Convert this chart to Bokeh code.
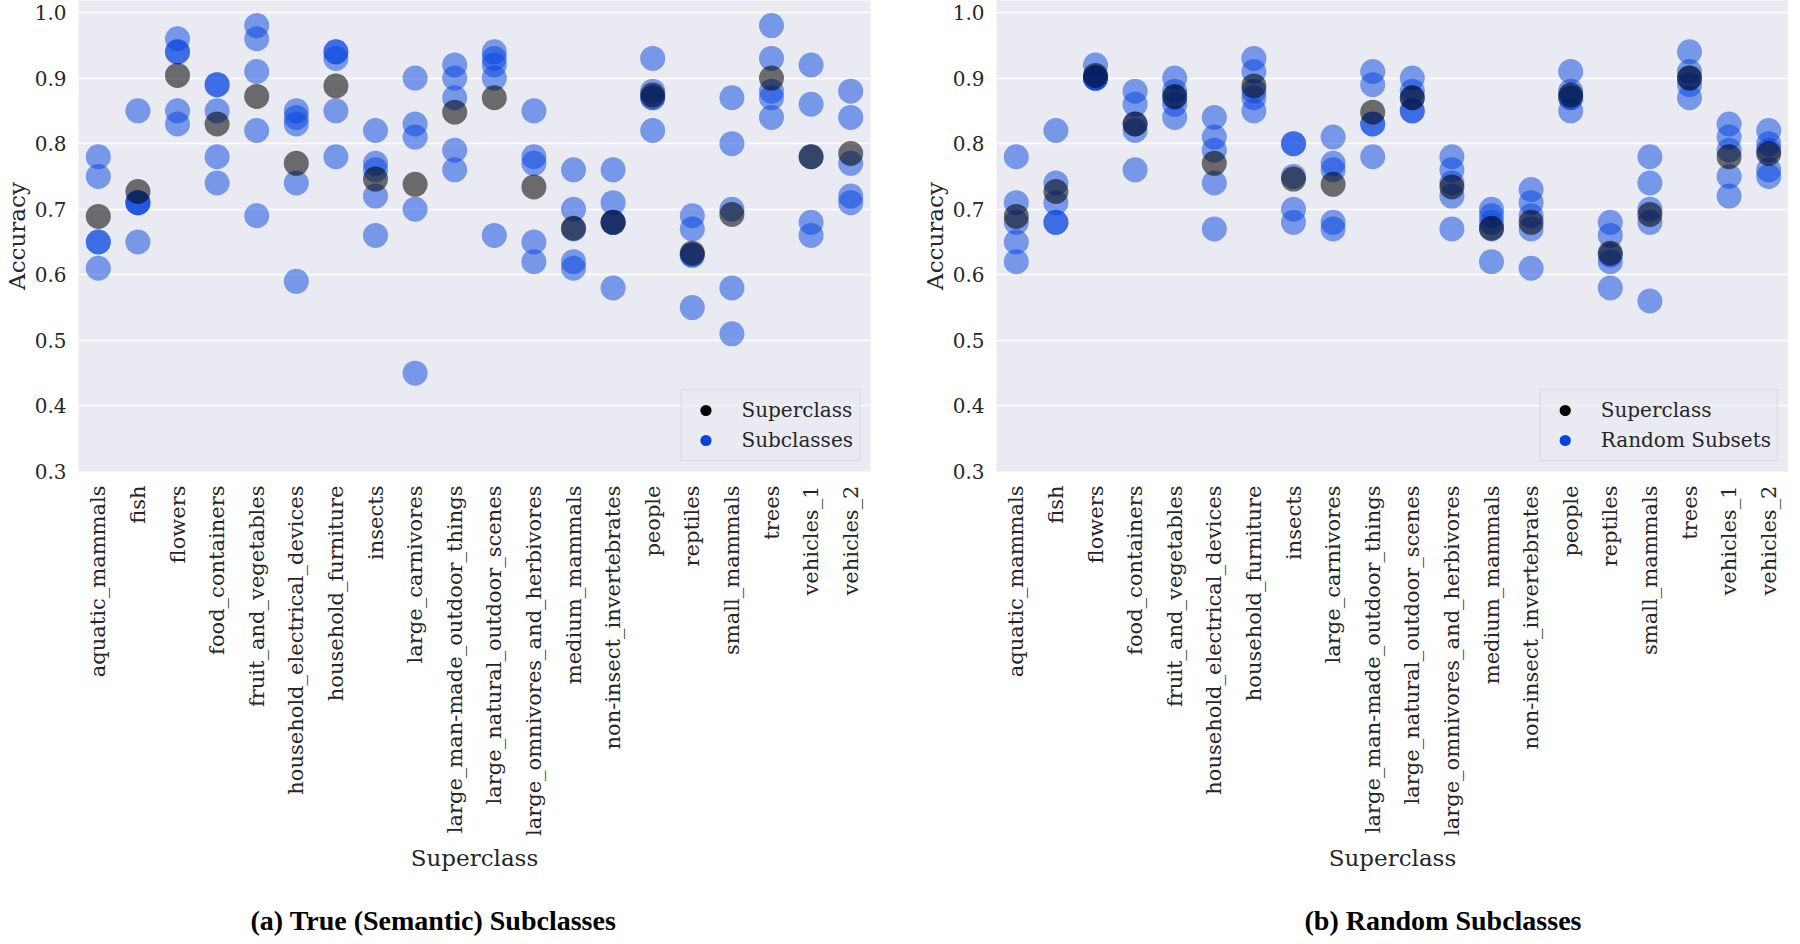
import math
from bokeh.plotting import figure
from bokeh.models import (ColumnDataSource, FactorRange, Range1d, Legend, LegendItem,
                          FixedTicker, PrintfTickFormatter)
from bokeh.layouts import row
from bokeh.embed import file_html
from bokeh.resources import INLINE

categories = ["aquatic_mammals", "fish", "flowers", "food_containers", "fruit_and_vegetables",
              "household_electrical_devices", "household_furniture", "insects", "large_carnivores",
              "large_man-made_outdoor_things", "large_natural_outdoor_scenes",
              "large_omnivores_and_herbivores", "medium_mammals", "non-insect_invertebrates",
              "people", "reptiles", "small_mammals", "trees", "vehicles_1", "vehicles_2"]

superclass_acc = [0.689, 0.727, 0.904, 0.830, 0.872, 0.770, 0.888, 0.746, 0.738, 0.848,
                  0.870, 0.734, 0.671, 0.680, 0.874, 0.633, 0.692, 0.900, 0.780, 0.785]

semantic_subclass_acc = [
    [0.78, 0.75, 0.65, 0.65, 0.61],
    [0.85, 0.71, 0.71, 0.71, 0.65],
    [0.96, 0.94, 0.94, 0.85, 0.83],
    [0.89, 0.89, 0.85, 0.78, 0.74],
    [0.98, 0.96, 0.91, 0.82, 0.69],
    [0.85, 0.84, 0.83, 0.74, 0.59],
    [0.94, 0.94, 0.93, 0.85, 0.78],
    [0.82, 0.77, 0.76, 0.72, 0.66],
    [0.90, 0.83, 0.81, 0.70, 0.45],
    [0.92, 0.90, 0.87, 0.79, 0.76],
    [0.94, 0.93, 0.92, 0.90, 0.66],
    [0.85, 0.78, 0.77, 0.65, 0.62],
    [0.76, 0.70, 0.67, 0.62, 0.61],
    [0.76, 0.71, 0.68, 0.68, 0.58],
    [0.93, 0.88, 0.87, 0.87, 0.82],
    [0.69, 0.67, 0.63, 0.63, 0.55],
    [0.87, 0.80, 0.70, 0.58, 0.51],
    [0.98, 0.93, 0.88, 0.87, 0.84],
    [0.92, 0.86, 0.78, 0.68, 0.66],
    [0.88, 0.84, 0.77, 0.72, 0.71],
]

random_subclass_acc = [
    [0.78, 0.71, 0.68, 0.65, 0.62],
    [0.82, 0.74, 0.71, 0.68, 0.68],
    [0.92, 0.90, 0.90, 0.90, 0.90],
    [0.88, 0.86, 0.83, 0.82, 0.76],
    [0.90, 0.88, 0.87, 0.86, 0.84],
    [0.84, 0.81, 0.79, 0.74, 0.67],
    [0.93, 0.91, 0.88, 0.87, 0.85],
    [0.80, 0.80, 0.75, 0.70, 0.68],
    [0.81, 0.77, 0.76, 0.68, 0.67],
    [0.91, 0.89, 0.83, 0.83, 0.78],
    [0.90, 0.88, 0.87, 0.85, 0.85],
    [0.78, 0.76, 0.74, 0.72, 0.67],
    [0.70, 0.69, 0.68, 0.67, 0.62],
    [0.73, 0.71, 0.69, 0.67, 0.61],
    [0.91, 0.88, 0.87, 0.87, 0.85],
    [0.68, 0.66, 0.63, 0.62, 0.58],
    [0.78, 0.74, 0.70, 0.68, 0.56],
    [0.94, 0.91, 0.90, 0.89, 0.87],
    [0.83, 0.81, 0.79, 0.75, 0.72],
    [0.82, 0.80, 0.79, 0.76, 0.75],
]

y_ticks = [0.3, 0.4, 0.5, 0.6, 0.7, 0.8, 0.9, 1.0]

SERIF = "DejaVu Serif"
TEXT = "#262626"
BLUE = "#0343df"


def make_panel(sub_values, legend_label, caption, border_left, border_right, cap_offset):
    p = figure(x_range=FactorRange(factors=categories, range_padding=0),
               y_range=Range1d(0.3, 1.0183),
               frame_width=792, frame_height=471,
               output_backend="svg", toolbar_location=None,
               title=caption, title_location="below",
               min_border_left=border_left, min_border_right=border_right,
               min_border_top=0, min_border_bottom=0)
    p.background_fill_color = "#eaeaf2"
    p.border_fill_color = "white"
    p.outline_line_color = None
    p.xgrid.grid_line_color = None
    p.ygrid.grid_line_color = "white"
    p.ygrid.grid_line_width = 1.3

    p.yaxis.ticker = FixedTicker(ticks=y_ticks)
    p.yaxis.formatter = PrintfTickFormatter(format="%.1f")
    for ax in (p.xaxis[0], p.yaxis[0]):
        ax.axis_line_color = None
        ax.major_tick_line_color = None
        ax.minor_tick_line_color = None
        ax.major_tick_out = 0
        ax.major_tick_in = 0
        ax.major_label_text_font = SERIF
        ax.major_label_text_color = TEXT
        ax.axis_label_text_font = SERIF
        ax.axis_label_text_font_size = "23px"
        ax.axis_label_text_font_style = "normal"
        ax.axis_label_text_color = TEXT
    p.yaxis.major_label_text_font_size = "20px"
    p.xaxis.major_label_text_font_size = "21px"
    p.yaxis.axis_label = "Accuracy"
    p.yaxis.major_label_standoff = 12
    p.yaxis.axis_label_standoff = 2
    p.xaxis.axis_label = "Superclass"
    p.xaxis.major_label_orientation = math.pi / 2
    p.xaxis.major_label_standoff = 14
    p.xaxis.axis_label_standoff = 6

    xs, ys = [], []
    for cat, vals in zip(categories, sub_values):
        for v in vals:
            xs.append(cat)
            ys.append(v)
    sub_src = ColumnDataSource(dict(x=xs, y=ys))
    sup_src = ColumnDataSource(dict(x=categories, y=superclass_acc))
    p.scatter("x", "y", source=sub_src, size=25, fill_color=BLUE, fill_alpha=0.5, line_color=None)
    p.scatter("x", "y", source=sup_src, size=25, fill_color="black", fill_alpha=0.55, line_color=None)

    # legend-only renderers: their single point lies below the visible y range
    leg_sup = p.scatter(x=[categories[0]], y=[-1.0], size=12, fill_color="black", line_color=None)
    leg_sub = p.scatter(x=[categories[0]], y=[-1.0], size=12, fill_color=BLUE, line_color=None)
    legend = Legend(items=[LegendItem(label="Superclass", renderers=[leg_sup]),
                           LegendItem(label=legend_label, renderers=[leg_sub])],
                    location="bottom_right", margin=10, padding=6, spacing=2,
                    glyph_width=36, glyph_height=28, label_standoff=18,
                    label_text_font=SERIF, label_text_font_size="20px", label_text_color=TEXT,
                    border_line_color="#cccccc", border_line_width=1,
                    background_fill_color="#eaeaf2", background_fill_alpha=0.8)
    p.add_layout(legend)

    p.title.text_font = "Liberation Serif"
    p.title.text_font_size = "28px"
    p.title.text_font_style = "bold"
    p.title.text_color = "black"
    p.title.align = "left"
    p.title.offset = cap_offset
    p.title.standoff = 57
    return p


p1 = make_panel(semantic_subclass_acc, "Subclasses", "(a) True (Semantic) Subclasses", 74, 26, 172)
p2 = make_panel(random_subclass_acc, "Random Subsets", "(b) Random Subclasses", 100, 0, 308)

layout = row(p1, p2)
open("out.html", "w").write(file_html(layout, INLINE))
